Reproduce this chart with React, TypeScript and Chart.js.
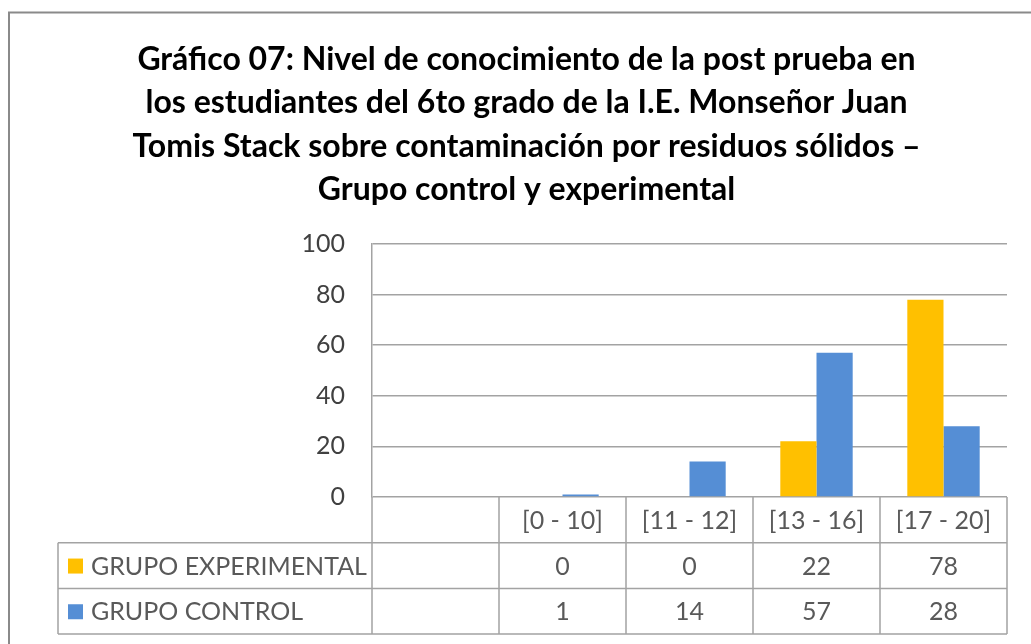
import React, { useEffect, useRef } from 'react';
import { Chart, registerables } from 'chart.js';

Chart.register(...registerables);

const TITLE_LINES = [
  'Gráfico 07: Nivel de conocimiento de la post prueba en',
  'los estudiantes del 6to grado de la I.E. Monseñor Juan',
  'Tomis Stack sobre contaminación por residuos sólidos –',
  'Grupo control y experimental',
];
// The original chart's category axis starts with an empty column
const CATEGORIES = ['', '[0 - 10]', '[11 - 12]', '[13 - 16]', '[17 - 20]'];
const SERIES_NAMES = ['GRUPO EXPERIMENTAL', 'GRUPO CONTROL'];
const EXPERIMENTAL = [null, 0, 0, 22, 78];
const CONTROL = [null, 1, 14, 57, 28];
const SERIES_COLORS = ['#FFC000', '#558ED5'];
const Y_MIN = 0;
const Y_MAX = 100;
const Y_STEP = 20;

const W = 1031;
const H = 644;
const FONT = 'Lato, "Open Sans", sans-serif';
const LINE = '#a3a3a3';

const dataTablePlugin = {
  id: 'dataTable',
  beforeDraw(chart: any) {
    const ctx = chart.ctx;
    ctx.save();
    ctx.fillStyle = '#ffffff';
    ctx.fillRect(0, 0, chart.width, chart.height);
    ctx.strokeStyle = '#8a8a8a';
    ctx.lineWidth = 2;
    ctx.beginPath();
    ctx.moveTo(9, chart.height + 5);
    ctx.lineTo(9, 12.5);
    ctx.lineTo(chart.width + 5, 12.5);
    ctx.stroke();
    ctx.restore();
  },
  afterDraw(chart: any) {
    const { ctx, chartArea } = chart;
    const xs = chart.scales.x;
    const labels: string[] = chart.data.labels;
    const n = labels.length;
    const half = n > 1 ? (xs.getPixelForValue(1) - xs.getPixelForValue(0)) / 2 : 60;
    const bounds: number[] = [];
    for (let i = 0; i < n; i++) bounds.push(xs.getPixelForValue(i) - half);
    bounds.push(xs.getPixelForValue(n - 1) + half);
    const rowH = 45.7;
    const top = chartArea.bottom;
    const rows = [top, top + rowH, top + 2 * rowH, top + 3 * rowH];
    const tableLeft = 58;

    ctx.save();
    ctx.strokeStyle = LINE;
    ctx.lineWidth = 1.5;
    ctx.beginPath();
    for (let r = 1; r < rows.length; r++) {
      ctx.moveTo(tableLeft, rows[r]);
      ctx.lineTo(bounds[bounds.length - 1], rows[r]);
    }
    ctx.moveTo(tableLeft, rows[1]);
    ctx.lineTo(tableLeft, rows[3]);
    for (const b of bounds) {
      ctx.moveTo(b, rows[0]);
      ctx.lineTo(b, rows[3]);
    }
    ctx.stroke();

    ctx.fillStyle = '#595959';
    ctx.font = `25px ${FONT}`;
    ctx.textAlign = 'center';
    ctx.textBaseline = 'middle';
    for (let i = 0; i < n; i++) {
      ctx.fillText(labels[i], xs.getPixelForValue(i), (rows[0] + rows[1]) / 2 + 1);
    }
    chart.data.datasets.forEach((ds: any, d: number) => {
      const cy = (rows[d + 1] + rows[d + 2]) / 2 + 1;
      ctx.textAlign = 'center';
      ctx.fillStyle = '#595959';
      ds.data.forEach((v: number | null, i: number) => {
        if (v === null || v === undefined) return;
        ctx.fillText(String(v), xs.getPixelForValue(i), cy);
      });
      ctx.fillStyle = ds.backgroundColor;
      ctx.fillRect(68, cy - 8, 15, 15);
      ctx.fillStyle = '#595959';
      ctx.textAlign = 'left';
      ctx.fillText(ds.label, 91, cy);
    });
    ctx.restore();
  },
};

export default function App() {
  const ref = useRef<HTMLCanvasElement | null>(null);

  useEffect(() => {
    if (!ref.current) return;
    const chart = new Chart(ref.current, {
      type: 'bar',
      data: {
        labels: CATEGORIES,
        datasets: [
          {
            label: SERIES_NAMES[0],
            data: EXPERIMENTAL,
            backgroundColor: SERIES_COLORS[0],
            categoryPercentage: 0.57,
            barPercentage: 1,
            yAxisID: 'y',
          },
          {
            label: SERIES_NAMES[1],
            data: CONTROL,
            backgroundColor: SERIES_COLORS[1],
            categoryPercentage: 0.57,
            barPercentage: 1,
            yAxisID: 'y',
          },
        ],
      },
      options: {
        responsive: false,
        animation: false,
        events: [],
        layout: { padding: { left: 22, right: 0, top: 0, bottom: 0 } },
        plugins: {
          legend: { display: false },
          tooltip: { enabled: false },
          title: {
            display: true,
            text: TITLE_LINES,
            color: '#000000',
            font: { family: FONT, size: 32, weight: 'bold', lineHeight: 43.3 / 32 },
            padding: { top: 38, bottom: 32.8 },
          },
        },
        scales: {
          x: {
            grid: { display: false },
            border: { display: false },
            ticks: { display: false },
            afterFit: (s: any) => {
              s.height = 147;
            },
          },
          y: {
            min: Y_MIN,
            max: Y_MAX,
            ticks: {
              stepSize: Y_STEP,
              padding: 27,
              color: '#404040',
              font: { family: FONT, size: 25 },
            },
            grid: { color: LINE, lineWidth: 1.5, drawTicks: false },
            border: { display: true, color: LINE, width: 1.5 },
            afterFit: (s: any) => {
              s.width = 350;
            },
          },
          y1: {
            position: 'right',
            min: 0,
            max: 1,
            grid: { display: false, drawTicks: false },
            border: { display: false },
            ticks: { display: false },
            afterFit: (s: any) => {
              s.width = 24;
            },
          },
        },
      },
      plugins: [dataTablePlugin],
    });
    return () => chart.destroy();
  }, []);

  return (
    <div style={{ position: 'fixed', left: 0, top: 0, width: W, height: H, overflow: 'hidden' }}>
      <canvas ref={ref} width={W} height={H} style={{ width: W, height: H, display: 'block' }} />
    </div>
  );
}
